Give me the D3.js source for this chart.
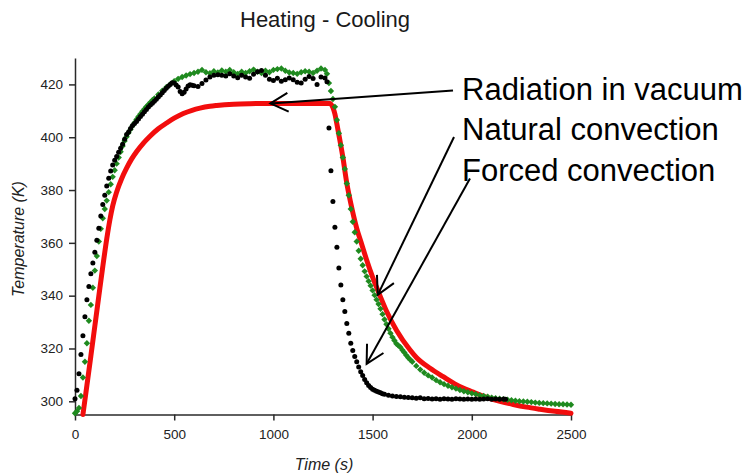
<!DOCTYPE html>
<html>
<head>
<meta charset="utf-8">
<script src="https://cdn.jsdelivr.net/npm/d3@7/dist/d3.min.js"></script>
<style>
  html, body { margin: 0; padding: 0; background: #fff; }
  svg { display: block; }
  text { font-family: "Liberation Sans", Arial, sans-serif; }
</style>
</head>
<body>
<svg id="chart" width="751" height="476"></svg>
<script>
// Heating / cooling temperature records, [time (s), temperature (K)]

// Radiation in vacuum (model curve)
const radiationData = [
  [40,295],[60,306],[80,317.2],[100,328.5],[120,339.8],[140,351],[160,361.5],[176,368.8],
  [190,374],[210,379.3],[235,384.3],[260,388.3],[285,391.7],[311,394.6],[345,397.8],
  [378,400.4],[420,403.2],[462,405.4],[500,407.2],[546,409],[590,410.2],[630,411],
  [680,411.7],[714,412],[800,412.5],[882,412.7],[1000,412.8],[1100,412.8],[1200,412.8],
  [1285,412.8],[1300,411.2],[1310,408.8],[1320,405],[1336,398.5],[1350,392.5],[1369,383],
  [1390,375],[1420,365.5],[1445,359.5],[1470,353.5],[1500,347],[1537,340],[1571,334],
  [1621,326.8],[1688,319.5],[1722,316.5],[1790,312.5],[1856,309.3],[1924,306.2],
  [2007,303.5],[2075,301.5],[2142,300],[2209,298.8],[2276,297.8],[2344,297],[2420,296.2],
  [2500,295.5]
];

// Natural convection (measured)
const naturalData = [
  [0,295.5],[10,296.2],[20,297.5],[30,302],[40,309],[50,315],[60,322],[70,330.5],[80,336.5],
  [90,343],[100,349.5],[110,355],[120,360.5],[130,365.3],[140,369.3],[150,372.8],[160,376],
  [170,379.2],[180,382.2],[190,385],[200,387.5],[210,390],[220,392.3],[230,394.5],[240,396.7],
  [250,398.6],[260,400.2],[270,401.7],[280,403],[290,404.3],[300,405.5],[310,406.7],
  [320,407.8],[330,408.8],[340,409.8],[350,410.7],[360,411.6],[370,412.4],[380,413.2],
  [390,414],[400,414.7],[420,416.2],[440,417.6],[460,418.9],[480,420.1],[500,421.2],
  [520,422.1],[540,422.8],[560,423.4],[580,423.9],[600,424.3],[620,424.8],[640,425.5],
  [660,424.6],[680,424.2],[700,425],[720,424.5],[740,425.3],[760,424.8],[780,425.5],
  [800,424.6],[820,424],[840,424.8],[860,424.3],[880,425],[900,425.6],[920,424.8],
  [940,424.3],[960,425.2],[980,424.6],[1000,425.5],[1020,425.8],[1040,426],[1060,425.2],
  [1080,424.5],[1100,424.3],[1120,424],[1140,424.6],[1160,425],[1180,424.8],[1200,424.3],
  [1220,425.2],[1240,426],[1260,425.5],[1270,424],[1280,420.5],[1290,417.5],[1300,414.5],
  [1310,411.5],[1320,406.5],[1330,401.5],[1340,397],[1350,392.3],[1360,388],[1370,382.5],
  [1380,378],[1390,372.8],[1400,368],[1410,364],[1420,360.5],[1430,357],[1440,354],
  [1450,351.5],[1460,349.2],[1470,347.3],[1480,345.5],[1490,343.8],[1500,342],[1510,340.2],
  [1520,338.5],[1530,336.8],[1540,335],[1550,333],[1560,331],[1570,329.2],[1580,327.5],
  [1590,325.8],[1600,324.3],[1610,323],[1620,321.8],[1630,321.1],[1640,320.5],[1650,319.4],
  [1660,318.5],[1670,317.4],[1680,316.5],[1690,315.7],[1700,315],[1720,313.4],[1740,312],
  [1760,310.8],[1780,309.8],[1800,309],[1820,308],[1840,307.2],[1860,306.5],[1880,305.9],
  [1900,305.3],[1920,304.8],[1940,304.3],[1960,303.8],[1980,303.4],[2000,303],[2020,302.7],
  [2040,302.3],[2060,302],[2080,301.7],[2100,301.4],[2120,301.2],[2140,301],[2160,300.8],
  [2180,300.6],[2200,300.4],[2220,300.2],[2240,300],[2260,299.9],[2280,299.8],[2300,299.7],
  [2320,299.5],[2340,299.4],[2360,299.3],[2380,299.2],[2400,299.1],[2420,299],[2440,298.9],
  [2460,298.9],[2480,298.8],[2500,298.7]
];

// Forced convection (measured)
const forcedData = [
  [0,301],[10,304.2],[20,310.4],[30,317.7],[40,324.8],[50,332],[60,338.5],[70,343.5],
  [80,348.3],[90,352.4],[100,356.4],[110,361],[120,365.5],[130,370.2],[140,374.5],[150,378],
  [160,381.5],[170,384.5],[180,387.2],[190,389.5],[200,391.3],[210,392.7],[220,394.3],
  [230,395.8],[240,397.3],[250,399.2],[260,401],[270,402],[280,403.3],[290,404.4],[300,405.2],
  [310,406],[320,406.9],[330,407.8],[340,408.7],[350,409.6],[360,410.5],[370,411.4],[380,412.2],
  [390,412.9],[400,413.6],[410,414.4],[420,415.2],[430,416],[440,416.8],[450,417.7],
  [460,418.5],[470,419.3],[480,420],[490,420.6],[500,420.5],[510,419.8],[520,419],
  [530,417.3],[540,416.5],[550,417],[560,418.3],[570,419.4],[580,419.9],[590,419.7],
  [600,419.5],[620,419.2],[640,420.3],[660,421.7],[680,422.8],[700,423.5],[720,423.7],
  [740,423.5],[760,423.2],[780,424],[800,423.2],[820,422.5],[840,423.5],[860,422.8],
  [880,422.3],[900,423.8],[920,424.8],[940,425.3],[960,423.5],[980,422],[1000,421.5],
  [1020,422.3],[1040,421.2],[1060,421.8],[1080,422.4],[1100,421.8],[1120,420.8],[1140,420.5],
  [1160,422],[1180,423],[1200,422.2],[1220,420],[1240,422.8],[1260,422.4],[1270,421],
  [1280,403.5],[1290,387.3],[1300,375.7],[1310,365.9],[1320,358.3],[1330,350.5],[1340,344],
  [1350,338.5],[1360,334],[1370,329.5],[1380,325.8],[1390,322],[1400,319.2],[1410,317],
  [1420,315],[1430,313],[1440,311.2],[1450,309.8],[1460,308.3],[1470,307],[1480,306],
  [1490,305.2],[1500,304.6],[1510,304.2],[1520,303.8],[1530,303.5],[1540,303.2],[1550,302.9],
  [1560,302.7],[1580,302.3],[1600,302],[1620,301.8],[1640,301.7],[1660,301.5],[1680,301.4],
  [1700,301.3],[1720,301.2],[1740,301.3],[1760,301],[1780,301.1],[1800,300.9],[1820,301],
  [1840,300.8],[1860,301],[1880,300.9],[1900,300.8],[1920,301],[1940,300.9],[1960,300.8],
  [1980,300.9],[2000,300.8],[2020,300.9],[2040,300.8],[2060,300.9],[2080,301],[2100,300.8],
  [2120,300.9],[2140,300.8],[2160,300.9],[2170,300.8]
];

const xTicks = [0, 500, 1000, 1500, 2000, 2500];
const yTicks = [300, 320, 340, 360, 380, 400, 420];

// Callout labels pointing at the curves; target in data units
const annotations = [
  { label: "Radiation in vacuum", target: [985, 412.8], tail: [-9, -9] },
  { label: "Natural convection",  target: [1526, 340.3], tail: [-8, -3] },
  { label: "Forced convection",   target: [1470, 314.2], tail: [8, -2] }
];

const chartTitle = "Heating - Cooling";
const xTitle = "Time (s)";
const yTitle = "Temperature (K)";

// ---- layout ----
const svg = d3.select("#chart");
const plotLeft = 75, plotRight = 571, plotTop = 58, plotBottom = 414.5;

const x = d3.scaleLinear().domain([0, 2500]).range([plotLeft, plotRight]);
const y = d3.scaleLinear().domain([295, 430]).range([plotBottom, plotTop]);

svg.append("rect").attr("width", 751).attr("height", 476).attr("fill", "#fff");

// title
svg.append("text")
  .attr("x", 325).attr("y", 26.5)
  .attr("text-anchor", "middle")
  .attr("font-size", 22)
  .attr("fill", "#1a1a1a")
  .text(chartTitle);

// axes
const axisColor = "#2a2a2a";
const fmt = d3.format("d");
const gx = svg.append("g")
  .attr("transform", `translate(0,${plotBottom})`)
  .call(d3.axisBottom(x).tickValues(xTicks).tickFormat(fmt)
    .tickSize(6).tickSizeOuter(0).tickPadding(9));
const gy = svg.append("g")
  .attr("transform", `translate(${plotLeft},0)`)
  .call(d3.axisLeft(y).tickValues(yTicks).tickFormat(fmt)
    .tickSize(6).tickSizeOuter(0).tickPadding(6));

[gx, gy].forEach(g => {
  g.select(".domain").attr("stroke", axisColor).attr("stroke-width", 1.5);
  g.selectAll(".tick line").attr("stroke", axisColor).attr("stroke-width", 1.5);
  g.selectAll(".tick text")
    .attr("font-family", "'Liberation Sans', Arial, sans-serif")
    .attr("font-size", 13.5)
    .attr("fill", "#222");
});

svg.append("text")
  .attr("x", 324).attr("y", 470)
  .attr("text-anchor", "middle")
  .attr("font-size", 16).attr("font-style", "italic")
  .attr("fill", "#222")
  .text(xTitle);

svg.append("text")
  .attr("transform", "translate(24,239) rotate(-90)")
  .attr("text-anchor", "middle")
  .attr("font-size", 16).attr("font-style", "italic")
  .attr("fill", "#222")
  .text(yTitle);

// ---- series ----
const plot = svg.append("g");

// radiation model: thick red curve
plot.append("path")
  .datum(radiationData)
  .attr("fill", "none")
  .attr("stroke", "#f20d0d")
  .attr("stroke-width", 5)
  .attr("stroke-linejoin", "round")
  .attr("stroke-linecap", "round")
  .attr("d", d3.line().x(d => x(d[0])).y(d => y(d[1])).curve(d3.curveMonotoneX));

// natural convection: green diamonds
const diamond = r => `M0,${-r}L${r},0L0,${r}L${-r},0Z`;
plot.append("g").selectAll("path")
  .data(naturalData)
  .join("path")
  .attr("transform", d => `translate(${x(d[0])},${y(d[1])})`)
  .attr("d", diamond(3.2))
  .attr("fill", "#1f8a1f");

// forced convection: black dots
plot.append("g").selectAll("circle")
  .data(forcedData)
  .join("circle")
  .attr("cx", d => x(d[0]))
  .attr("cy", d => y(d[1]))
  .attr("r", 2.5)
  .attr("fill", "#000");

// ---- callouts ----
const textX = 462, firstBaseline = 99.5, lineGap = 40.5;
const ann = svg.append("g");
annotations.forEach((a, i) => {
  const by = firstBaseline + i * lineGap;
  ann.append("text")
    .attr("x", textX).attr("y", by)
    .attr("font-size", 31)
    .attr("fill", "#000")
    .text(a.label);

  const tx = x(a.target[0]), ty = y(a.target[1]);
  const sx = textX + a.tail[0], sy = by + a.tail[1];
  ann.append("line")
    .attr("x1", sx).attr("y1", sy).attr("x2", tx).attr("y2", ty)
    .attr("stroke", "#000").attr("stroke-width", 2);

  // open arrow head at the target end
  const ang = Math.atan2(sy - ty, sx - tx);
  const len = 20, spread = 0.49;
  const p1 = [tx + len * Math.cos(ang + spread), ty + len * Math.sin(ang + spread)];
  const p2 = [tx + len * Math.cos(ang - spread), ty + len * Math.sin(ang - spread)];
  ann.append("path")
    .attr("d", `M${p1[0]},${p1[1]}L${tx},${ty}L${p2[0]},${p2[1]}`)
    .attr("fill", "none")
    .attr("stroke", "#000")
    .attr("stroke-width", 2)
    .attr("stroke-linejoin", "miter");
});
</script>
</body>
</html>
